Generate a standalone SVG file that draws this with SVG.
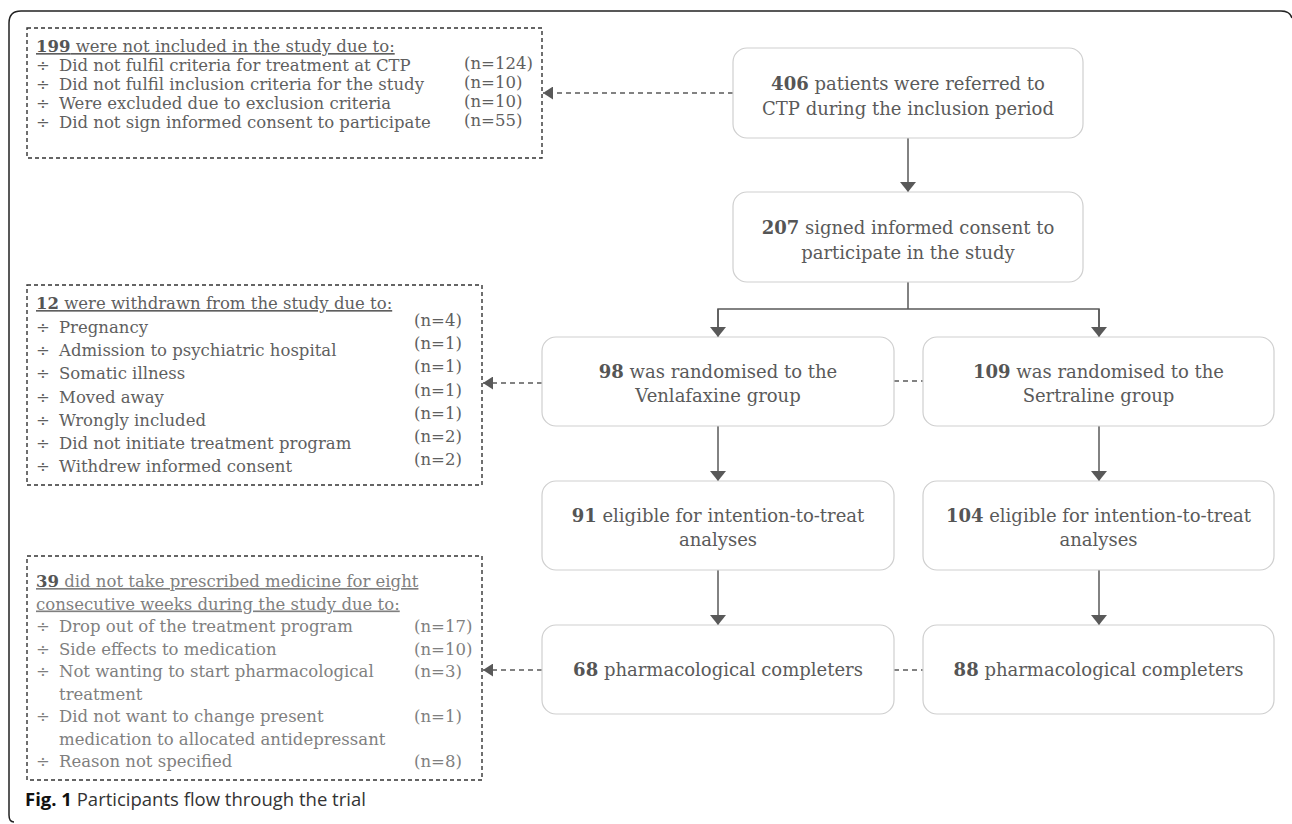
<svg xmlns="http://www.w3.org/2000/svg" width="1292" height="824" viewBox="0 0 1292 824">
<style>
  .frame { fill: none; stroke: #222; stroke-width: 1.5; }
  .node rect { fill: #fff; stroke: #cfcfcf; stroke-width: 1.2; }
  .nt { font-family: "DejaVu Serif", "Liberation Serif", serif; font-size: 18px; fill: #5a5a5a; text-anchor: middle; }
  .b { font-weight: bold; fill: #555; }
  .note rect { fill: #fff; stroke: #333; stroke-width: 1.4; stroke-dasharray: 4 3; }
  .lt { font-family: "DejaVu Serif", "Liberation Serif", serif; font-size: 16.5px; fill: #5f5f5f; }
  .lt2 { font-family: "DejaVu Serif", "Liberation Serif", serif; font-size: 16.5px; fill: #7f7f7f; }
  .u { text-decoration: underline; }
  .conn { fill: none; stroke: #595959; stroke-width: 1.5; }
  .dash { stroke-dasharray: 5 4; }
  .cap { font-family: "Open Sans", "Liberation Sans", sans-serif; font-size: 18.5px; fill: #333; }
</style>
<defs>
  <marker id="ah" viewBox="0 0 10 16" refX="10" refY="8" markerWidth="10" markerHeight="16" markerUnits="userSpaceOnUse" orient="auto">
    <path d="M0,0 L10,8 L0,16 Z" fill="#595959"/>
  </marker>
  <marker id="ahs" viewBox="0 0 10 13" refX="10" refY="6.5" markerWidth="10" markerHeight="13" markerUnits="userSpaceOnUse" orient="auto">
    <path d="M0,0 L10,6.5 L0,13 Z" fill="#595959"/>
  </marker>
</defs>
<rect width="1292" height="824" fill="#fff"/>
<path class="frame" d="M14,822 Q9,822 9,815 L9,23 Q9,11 21,11 L1281,11 Q1290,11 1292,18"/>

<g id="connectors">
  <line class="conn" x1="908" y1="138" x2="908" y2="192" marker-end="url(#ah)"/>
  <polyline class="conn" points="908,282 908,309"/>
  <polyline class="conn" points="718,337 718,309 1099,309 1099,337"/>
  <line class="conn" x1="718" y1="309" x2="718" y2="337" marker-end="url(#ah)"/>
  <line class="conn" x1="1099" y1="309" x2="1099" y2="337" marker-end="url(#ah)"/>
  <line class="conn" x1="718" y1="426" x2="718" y2="481" marker-end="url(#ah)"/>
  <line class="conn" x1="1099" y1="426" x2="1099" y2="481" marker-end="url(#ah)"/>
  <line class="conn" x1="718" y1="570" x2="718" y2="625" marker-end="url(#ah)"/>
  <line class="conn" x1="1099" y1="570" x2="1099" y2="625" marker-end="url(#ah)"/>
  <line class="conn dash" x1="733" y1="93" x2="543" y2="93" marker-end="url(#ahs)"/>
  <line class="conn dash" x1="542" y1="383" x2="483" y2="383" marker-end="url(#ahs)"/>
  <line class="conn dash" x1="542" y1="670" x2="483" y2="670" marker-end="url(#ahs)"/>
  <line class="conn dash" x1="894" y1="381" x2="923" y2="381"/>
  <line class="conn dash" x1="894" y1="670" x2="923" y2="670"/>
</g>

<g id="node-406" class="node">
  <rect x="733" y="48" width="350" height="90" rx="14"/>
  <text class="nt" x="908" y="90"><tspan class="b">406</tspan> patients were referred to</text>
  <text class="nt" x="908" y="115">CTP during the inclusion period</text>
</g>
<g id="node-207" class="node">
  <rect x="733" y="192" width="350" height="90" rx="14"/>
  <text class="nt" x="908" y="234"><tspan class="b">207</tspan> signed informed consent to</text>
  <text class="nt" x="908" y="259">participate in the study</text>
</g>
<g id="node-98" class="node">
  <rect x="542" y="337" width="352" height="89" rx="14"/>
  <text class="nt" x="718" y="378"><tspan class="b">98</tspan> was randomised to the</text>
  <text class="nt" x="718" y="402">Venlafaxine group</text>
</g>
<g id="node-109" class="node">
  <rect x="923" y="337" width="351" height="89" rx="14"/>
  <text class="nt" x="1098.5" y="378"><tspan class="b">109</tspan> was randomised to the</text>
  <text class="nt" x="1098.5" y="402">Sertraline group</text>
</g>
<g id="node-91" class="node">
  <rect x="542" y="481" width="352" height="89" rx="14"/>
  <text class="nt" x="718" y="522"><tspan class="b">91</tspan> eligible for intention-to-treat</text>
  <text class="nt" x="718" y="546">analyses</text>
</g>
<g id="node-104" class="node">
  <rect x="923" y="481" width="351" height="89" rx="14"/>
  <text class="nt" x="1098.5" y="522"><tspan class="b">104</tspan> eligible for intention-to-treat</text>
  <text class="nt" x="1098.5" y="546">analyses</text>
</g>
<g id="node-68" class="node">
  <rect x="542" y="625" width="352" height="89" rx="14"/>
  <text class="nt" x="718" y="676"><tspan class="b">68</tspan> pharmacological completers</text>
</g>
<g id="node-88" class="node">
  <rect x="923" y="625" width="351" height="89" rx="14"/>
  <text class="nt" x="1098.5" y="676"><tspan class="b">88</tspan> pharmacological completers</text>
</g>

<g id="note-199" class="note">
  <rect x="27" y="28" width="515" height="130"/>
  <text class="lt u" x="36" y="52"><tspan class="b">199</tspan> were not included in the study due to:</text>
  <text class="lt" x="36" y="71">÷</text><text class="lt" x="59" y="71">Did not fulfil criteria for treatment at CTP</text><text class="lt" x="464" y="69">(n=124)</text>
  <text class="lt" x="36" y="90">÷</text><text class="lt" x="59" y="90">Did not fulfil inclusion criteria for the study</text><text class="lt" x="464" y="88">(n=10)</text>
  <text class="lt" x="36" y="109">÷</text><text class="lt" x="59" y="109">Were excluded due to exclusion criteria</text><text class="lt" x="464" y="107">(n=10)</text>
  <text class="lt" x="36" y="128">÷</text><text class="lt" x="59" y="128">Did not sign informed consent to participate</text><text class="lt" x="464" y="126">(n=55)</text>
</g>

<g id="note-12" class="note">
  <rect x="27" y="285" width="455" height="200"/>
  <text class="lt u" x="36" y="309"><tspan class="b">12</tspan> were withdrawn from the study due to:</text>
  <text class="lt" x="36" y="333">÷</text><text class="lt" x="59" y="333">Pregnancy</text><text class="lt" x="414" y="326">(n=4)</text>
  <text class="lt" x="36" y="356">÷</text><text class="lt" x="59" y="356">Admission to psychiatric hospital</text><text class="lt" x="414" y="349">(n=1)</text>
  <text class="lt" x="36" y="379">÷</text><text class="lt" x="59" y="379">Somatic illness</text><text class="lt" x="414" y="372">(n=1)</text>
  <text class="lt" x="36" y="402.5">÷</text><text class="lt" x="59" y="402.5">Moved away</text><text class="lt" x="414" y="395.5">(n=1)</text>
  <text class="lt" x="36" y="426">÷</text><text class="lt" x="59" y="426">Wrongly included</text><text class="lt" x="414" y="419">(n=1)</text>
  <text class="lt" x="36" y="449">÷</text><text class="lt" x="59" y="449">Did not initiate treatment program</text><text class="lt" x="414" y="442">(n=2)</text>
  <text class="lt" x="36" y="472">÷</text><text class="lt" x="59" y="472">Withdrew informed consent</text><text class="lt" x="414" y="465">(n=2)</text>
</g>

<g id="note-39" class="note">
  <rect x="27" y="556" width="455" height="224"/>
  <text class="lt2 u" x="36" y="587"><tspan class="b">39</tspan> did not take prescribed medicine for eight</text>
  <text class="lt2 u" x="36" y="609.5">consecutive weeks during the study due to:</text>
  <text class="lt2" x="36" y="632">÷</text><text class="lt2" x="59" y="632">Drop out of the treatment program</text><text class="lt2" x="414" y="632">(n=17)</text>
  <text class="lt2" x="36" y="654.5">÷</text><text class="lt2" x="59" y="654.5">Side effects to medication</text><text class="lt2" x="414" y="654.5">(n=10)</text>
  <text class="lt2" x="36" y="677">÷</text><text class="lt2" x="59" y="677">Not wanting to start pharmacological</text><text class="lt2" x="414" y="677">(n=3)</text>
  <text class="lt2" x="59" y="699.5">treatment</text>
  <text class="lt2" x="36" y="722">÷</text><text class="lt2" x="59" y="722">Did not want to change present</text><text class="lt2" x="414" y="722">(n=1)</text>
  <text class="lt2" x="59" y="744.5">medication to allocated antidepressant</text>
  <text class="lt2" x="36" y="767">÷</text><text class="lt2" x="59" y="767">Reason not specified</text><text class="lt2" x="414" y="767">(n=8)</text>
</g>

<text class="cap" x="25" y="806"><tspan font-weight="bold" fill="#111">Fig. 1</tspan> Participants flow through the trial</text>
</svg>
